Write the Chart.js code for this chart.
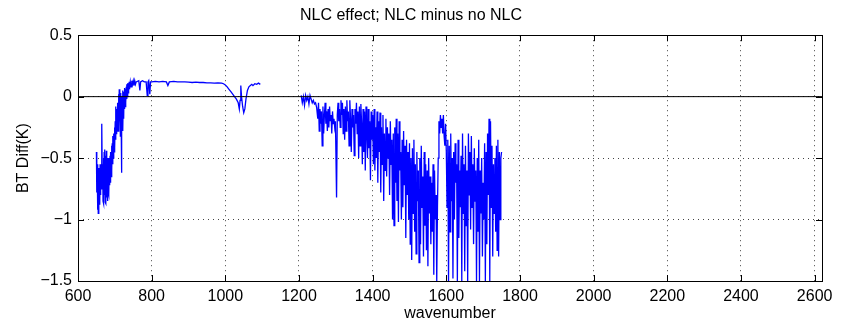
<!DOCTYPE html>
<html>
<head>
<meta charset="utf-8">
<script src="https://cdn.jsdelivr.net/npm/chart.js@4.4.0/dist/chart.umd.min.js"></script>
<style>
  html, body { margin: 0; padding: 0; background: #fff; }
  #wrap { width: 841px; height: 323px; }
</style>
</head>
<body>
<div id="wrap"><canvas id="nlcChart" width="841" height="323"></canvas></div>
<script>
// wavenumber / BT difference (gap 1100-1200 has no data)
var wavenumber = [
  650, 651, 652, 653, 654, 655, 656, 657, 658, 659, 660, 661, 662, 663, 664, 665, 666, 667, 668, 669,
  670, 671, 672, 673, 674, 675, 676, 677, 678, 679, 680, 681, 682, 683, 684, 685, 686, 687, 688, 689,
  690, 691, 692, 693, 694, 695, 696, 697, 698, 699, 700, 701, 702, 703, 704, 705, 706, 707, 708, 709,
  710, 711, 712, 713, 714, 715, 716, 717, 718, 719, 720, 721, 722, 723, 724, 725, 726, 727, 728, 729,
  730, 731, 732, 733, 734, 735, 736, 737, 738, 739, 740, 742, 744, 746, 748, 750, 752, 754, 756, 758,
  760, 765, 768, 770, 775, 780, 785, 788, 790, 792, 795, 797, 800, 810, 820, 830, 840, 844, 848, 860,
  870, 880, 890, 900, 910, 920, 930, 940, 950, 960, 970, 980, 990, 995, 1000, 1005, 1010, 1015, 1020, 1025,
  1030, 1035, 1038, 1040, 1042, 1044, 1047, 1050, 1053, 1056, 1060, 1064, 1068, 1072, 1075, 1080, 1085, 1090, 1095,
  1150,
  1206, 1209, 1212, 1215, 1218, 1221, 1224, 1227, 1230, 1233, 1236, 1239, 1242, 1245, 1248,
  1251, 1253, 1255, 1257, 1259, 1261, 1263, 1265, 1267, 1269, 1271, 1273, 1275, 1277, 1279, 1281, 1283, 1285, 1287, 1289,
  1291, 1293, 1295, 1297, 1299, 1302, 1304, 1306, 1308, 1310, 1312, 1314, 1316, 1318, 1320, 1322, 1324, 1326, 1328, 1330,
  1332, 1334, 1336, 1338, 1340, 1342, 1344, 1346, 1348, 1350, 1352, 1354, 1356, 1358, 1360, 1362, 1364, 1366, 1368, 1370,
  1372, 1374, 1376, 1378, 1380, 1382, 1384, 1386, 1388, 1390, 1392, 1394, 1396, 1398, 1400, 1402, 1404, 1406, 1408, 1410,
  1412, 1414, 1416, 1418, 1420, 1422, 1424, 1426, 1428, 1430, 1432, 1434, 1436, 1438, 1440, 1442, 1444, 1446, 1448, 1450,
  1452, 1454, 1456, 1458, 1460, 1462, 1464, 1466, 1468, 1470, 1472, 1474, 1476, 1478, 1480, 1482, 1484, 1486, 1488, 1490,
  1492, 1494, 1496, 1498, 1500, 1502, 1504, 1506, 1508, 1510, 1512, 1514, 1516, 1518, 1520, 1522, 1524, 1526, 1528, 1530,
  1532, 1534, 1536, 1538, 1540, 1542, 1544, 1546, 1548, 1550, 1552, 1554, 1556, 1558, 1560, 1562, 1564, 1566, 1568, 1570,
  1572, 1574, 1576, 1578, 1580, 1582, 1584, 1586, 1588, 1590, 1592, 1594, 1596, 1598, 1600, 1602, 1604, 1606, 1608, 1610,
  1612, 1614, 1616, 1618, 1620, 1622, 1624, 1626, 1628, 1630, 1632, 1634, 1636, 1638, 1640, 1642, 1644, 1646, 1648, 1650,
  1652, 1654, 1656, 1658, 1660, 1662, 1664, 1666, 1668, 1670, 1672, 1674, 1676, 1678, 1680, 1682, 1684, 1686, 1688, 1690,
  1692, 1694, 1696, 1698, 1700, 1702, 1704, 1706, 1708, 1710, 1712, 1714, 1716, 1718, 1720, 1722, 1724, 1726, 1728, 1730,
  1732, 1734, 1736, 1738, 1740, 1742, 1744, 1746, 1748, 1750
];
var btDiff = [
  -0.45, -0.78, -0.55, -0.92, -0.6, -0.95, -0.58, -0.85, -0.62, -0.88, -0.55, -0.8, -0.6, -0.75, -0.5, -0.22, -0.7, -0.55, -0.85, -0.5,
  -0.87, -0.45, -0.8, -0.43, -0.86, -0.48, -0.87, -0.44, -0.82, -0.5, -0.85, -0.52, -0.78, -0.5, -0.8, -0.55, -0.72, -0.48, -0.7, -0.45,
  -0.65, -0.4, -0.6, -0.38, -0.55, -0.32, -0.5, -0.3, -0.45, -0.25, -0.42, -0.2, -0.35, -0.08, -0.3, -0.1, -0.28, -0.2, -0.05, -0.28,
  0.02, -0.25, 0.06, -0.2, -0.02, -0.32, 0.03, -0.15, -0.62, 0.0, -0.22, 0.05, -0.28, 0.02, -0.18, 0.04, -0.1, 0.07, -0.08, 0.06,
  -0.05, 0.08, -0.02, 0.1, 0.0, 0.11, 0.03, 0.1, 0.05, 0.12, 0.06, 0.12, 0.08, 0.13, 0.1, 0.13, 0.09, 0.13, 0.1, 0.12,
  0.12, 0.13, 0.05, 0.12, 0.13, 0.12, 0.12, 0.01, 0.12, 0.13, 0.02, 0.12, 0.12, 0.125, 0.12, 0.125, 0.12, 0.09, 0.12, 0.125,
  0.12, 0.12, 0.12, 0.118, 0.115, 0.118, 0.115, 0.115, 0.112, 0.112, 0.11, 0.112, 0.11, 0.105, 0.095, 0.08, 0.06, 0.04, 0.02, 0.0,
  -0.02, -0.05, -0.1, -0.03, 0.09, 0.0, -0.08, -0.13, -0.1, -0.02, 0.05, 0.08, 0.09, 0.1, 0.09, 0.105, 0.1, 0.11, 0.1,
  null,
  0.01, -0.05, 0.0, -0.07, 0.01, -0.03, 0.0, -0.06, 0.01, -0.02, -0.05, -0.03, -0.06, -0.05, -0.09,
  -0.18, -0.05, -0.28, -0.1, -0.22, -0.12, -0.4, -0.08, -0.3, -0.15, -0.05, -0.22, -0.12, -0.28, -0.1, -0.25, -0.08, -0.2, -0.15, -0.3,
  -0.12, -0.22, -0.18, -0.25, -0.2, -0.82, -0.15, -0.05, -0.2, -0.1, -0.25, -0.03, -0.15, -0.05, -0.3, -0.1, -0.35, -0.08, -0.28, -0.03,
  -0.2, -0.12, -0.4, -0.03, -0.18, -0.45, -0.1, -0.25, -0.15, -0.48, -0.1, -0.22, -0.05, -0.3, -0.12, -0.5, -0.08, -0.4, -0.06, -0.22,
  -0.55, -0.1, -0.45, -0.12, -0.6, -0.08, -0.3, -0.5, -0.1, -0.42, -0.2, -0.68, -0.12, -0.35, -0.15, -0.55, -0.1, -0.6, -0.25, -0.5,
  -0.12, -0.7, -0.2, -0.45, -0.13, -0.78, -0.25, -0.55, -0.15, -0.85, -0.3, -0.6, -0.18, -0.65, -0.25, -0.5, -0.3, -0.8, -0.2, -0.55,
  -0.35, -1.0, -0.3, -1.05, -0.25, -0.7, -0.18, -0.85, -0.3, -1.02, -0.2, -0.6, -0.45, -1.0, -0.35, -0.9, -0.28, -0.72, -0.4, -1.15,
  -0.35, -0.8, -0.45, -1.0, -0.38, -1.2, -0.5, -1.33, -0.42, -0.95, -0.35, -1.1, -0.55, -1.28, -0.45, -0.85, -0.6, -1.35, -0.5, -1.2,
  -0.4, -0.9, -0.65, -1.3, -0.45, -1.05, -0.55, -1.25, -0.6, -1.38, -0.5, -0.95, -0.65, -1.2, -0.7, -1.1, -0.55, -1.45, -0.6, -1.0,
  -0.8, -1.5, -0.9, -0.5, -0.2, -0.3, -0.15, -0.25, -0.18, -0.3, -0.15, -0.32, -0.4, -0.22, -0.45, -0.9, -0.35, -1.5, -0.4, -1.1,
  -0.3, -0.85, -0.5, -1.48, -0.45, -1.0, -0.38, -0.7, -0.55, -1.5, -0.35, -1.15, -0.6, -0.9, -0.48, -1.5, -0.3, -0.95, -0.55, -1.42,
  -0.4, -1.05, -0.6, -1.5, -0.3, -0.8, -0.45, -1.08, -0.32, -0.9, -0.55, -1.2, -0.42, -0.85, -0.6, -1.5, -0.5, -1.1, -0.35, -1.5,
  -0.6, -0.95, -0.5, -1.3, -0.7, -1.0, -0.38, -1.5, -0.45, -1.2, -0.3, -0.8, -0.18, -1.5, -0.2, -0.9, -0.4, -1.3, -0.55, -0.95,
  -0.5, -1.1, -0.4, -1.25, -0.35, -1.3, -0.45, -1.0, -0.5, -0.45
];

var xTicks = [600, 800, 1000, 1200, 1400, 1600, 1800, 2000, 2200, 2400, 2600];
var yTicks = [-1.5, -1, -0.5, 0, 0.5];
var xMin = 600, xMax = 2620;

var spectrum = wavenumber.map(function (w, i) { return { x: w, y: btDiff[i] }; });
var zeroLine = [{ x: xMin, y: 0 }, { x: xMax, y: 0 }];

var labelFont = { family: 'Liberation Sans', size: 16, weight: 'normal' };

// plain numbers with a real minus sign, like the original
function plainTick(v) {
  return v < 0 ? '\u2212' + String(-v) : String(v);
}

// box round the plot area plus inward tick marks, MATLAB style
var boxPlugin = {
  id: 'box',
  afterDatasetsDraw: function (chart) {
    var a = chart.chartArea, ctx = chart.ctx;
    var xs = chart.scales.x, ys = chart.scales.y;
    ctx.save();
    ctx.strokeStyle = '#000';
    ctx.lineWidth = 1;
    ctx.beginPath();
    xTicks.forEach(function (t) {
      var px = Math.round(xs.getPixelForValue(t)) + 0.5;
      ctx.moveTo(px, a.bottom); ctx.lineTo(px, a.bottom - 6);
      ctx.moveTo(px, a.top); ctx.lineTo(px, a.top + 6);
    });
    yTicks.forEach(function (t) {
      var py = Math.round(ys.getPixelForValue(t)) + 0.5;
      ctx.moveTo(a.left, py); ctx.lineTo(a.left + 6, py);
      ctx.moveTo(a.right, py); ctx.lineTo(a.right - 6, py);
    });
    ctx.stroke();
    ctx.strokeRect(Math.round(a.left) + 0.5, Math.round(a.top) + 0.5,
      Math.round(a.right - a.left), Math.round(a.bottom - a.top));
    ctx.restore();
  }
};

var ctx = document.getElementById('nlcChart').getContext('2d');
var nlcChart = new Chart(ctx, {
  type: 'line',
  data: {
    datasets: [
      {
        label: 'zero',
        data: zeroLine,
        borderColor: '#000',
        borderWidth: 1,
        pointRadius: 0,
        fill: false
      },
      {
        label: 'NLC minus no NLC',
        data: spectrum,
        borderColor: '#0000ff',
        borderWidth: 1.3,
        pointRadius: 0,
        spanGaps: false,
        tension: 0,
        fill: false
      }
    ]
  },
  options: {
    responsive: false,
    animation: false,
    events: [],
    layout: { padding: { left: 0, right: 19, top: 0, bottom: 0 } },
    plugins: {
      legend: { display: false },
      tooltip: { enabled: false },
      title: {
        display: true,
        text: 'NLC effect; NLC minus no NLC',
        color: '#000',
        font: labelFont,
        padding: { top: 6, bottom: 10 }
      }
    },
    scales: {
      x: {
        type: 'linear',
        min: xMin,
        max: xMax,
        afterBuildTicks: function (scale) {
          scale.ticks = xTicks.map(function (v) { return { value: v }; });
        },
        afterFit: function (scale) { scale.height = 42; },
        ticks: {
          color: '#000',
          font: labelFont,
          maxRotation: 0,
          padding: 6,
          callback: plainTick
        },
        grid: { color: '#444', lineWidth: 1, drawTicks: false },
        border: { display: false, dash: [1, 4] },
        title: {
          display: true,
          text: 'wavenumber',
          color: '#000',
          font: labelFont,
          padding: { top: 0, bottom: 0 }
        }
      },
      y: {
        min: -1.5,
        max: 0.5,
        afterBuildTicks: function (scale) {
          scale.ticks = yTicks.map(function (v) { return { value: v }; });
        },
        afterFit: function (scale) { scale.width = 78; },
        ticks: {
          color: '#000',
          font: labelFont,
          padding: 6,
          callback: plainTick
        },
        grid: { color: '#444', lineWidth: 1, drawTicks: false },
        border: { display: false, dash: [1, 4] },
        title: {
          display: true,
          text: 'BT Diff(K)',
          color: '#000',
          font: labelFont,
          padding: { top: 14, bottom: 0 }
        }
      }
    }
  },
  plugins: [boxPlugin]
});
</script>
</body>
</html>
